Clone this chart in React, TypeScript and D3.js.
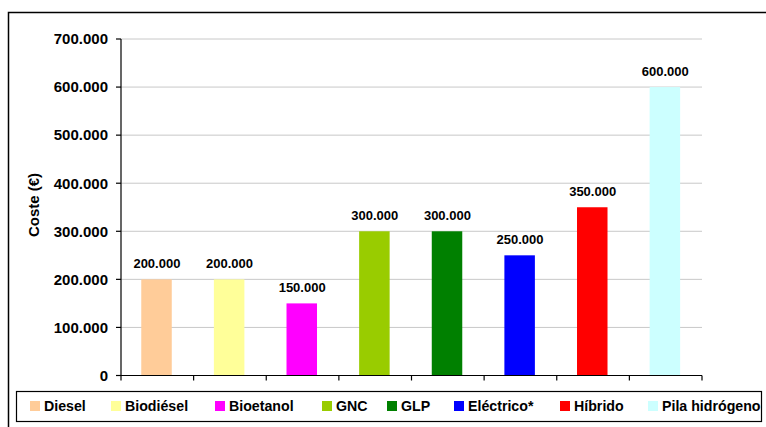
import React from "react";
import * as d3 from "d3";

const categories = ["Diesel", "Biodiésel", "Bioetanol", "GNC", "GLP", "Eléctrico*", "Híbrido", "Pila hidrógeno"];
const values = [200000, 200000, 150000, 300000, 300000, 250000, 350000, 600000];
const colors = ["#FFCC99", "#FFFF99", "#FF00FF", "#99CC00", "#008000", "#0000FF", "#FF0000", "#CCFFFF"];
const yTicks = [0, 100000, 200000, 300000, 400000, 500000, 600000, 700000];
const legendX = [30, 111, 215, 322, 387, 454, 560, 648];

const fmt = (v: number) => (v === 0 ? "0" : d3.format(",")(v).replace(/,/g, "."));

export default function App() {
  const W = 766, H = 427;
  const left = 121, right = 702, top = 39, bottom = 375.5;
  const x = d3.scaleBand<string>().domain(categories).range([left, right]).paddingInner(0).paddingOuter(0);
  const y = d3.scaleLinear().domain([0, 700000]).range([bottom, top]);
  const bw = 30.5;
  const font = "Arial, 'Liberation Sans', sans-serif";
  return (
    <svg width={W} height={H} style={{ position: "absolute", left: 0, top: 0 }} fontFamily={font}>
      <rect x={0} y={0} width={W} height={H} fill="#fff" />
      <rect x={8.5} y={12.5} width={W + 10} height={H + 10} fill="none" stroke="#000" strokeWidth={1.5} />
      {yTicks.filter((t) => t > 0).map((t) => (
        <line key={t} x1={left} x2={right} y1={y(t)} y2={y(t)} stroke="#c8c8c8" strokeWidth={1} />
      ))}
      {categories.map((c, i) => {
        const cx = x(c)! + x.bandwidth() / 2 - 0.8;
        return (
          <g key={c}>
            <rect x={cx - bw / 2} y={y(values[i])} width={bw} height={bottom - y(values[i])} fill={colors[i]} />
            <text x={cx + 0.4} y={y(values[i]) - 11} textAnchor="middle" fontSize={13} fontWeight="bold" fill="#000">
              {fmt(values[i])}
            </text>
          </g>
        );
      })}
      <line x1={left} x2={left} y1={top} y2={bottom} stroke="#000" strokeWidth={1.2} />
      <line x1={left} x2={right} y1={bottom} y2={bottom} stroke="#000" strokeWidth={1.2} />
      {yTicks.map((t) => (
        <g key={t}>
          <line x1={left - 5} x2={left} y1={y(t)} y2={y(t)} stroke="#000" strokeWidth={1.2} />
          <text x={108} y={y(t) + 5.3} textAnchor="end" fontSize={15} fontWeight="bold" fill="#000">
            {fmt(t)}
          </text>
        </g>
      ))}
      {d3.range(categories.length + 1).map((i) => {
        const xx = left + i * x.bandwidth();
        return <line key={i} x1={xx} x2={xx} y1={bottom} y2={bottom + 5} stroke="#000" strokeWidth={1.2} />;
      })}
      <text transform={`translate(39,205) rotate(-90)`} textAnchor="middle" fontSize={15} fontWeight="bold" fill="#000">
        Coste (€)
      </text>
      <rect x={16.5} y={391.5} width={745} height={30} fill="#fff" stroke="#000" strokeWidth={1.2} />
      {categories.map((c, i) => (
        <g key={c}>
          <rect x={legendX[i]} y={401} width={10} height={10} fill={colors[i]} />
          <text x={legendX[i] + 14} y={411} fontSize={14.2} fontWeight="bold" fill="#000">
            {c}
          </text>
        </g>
      ))}
    </svg>
  );
}
